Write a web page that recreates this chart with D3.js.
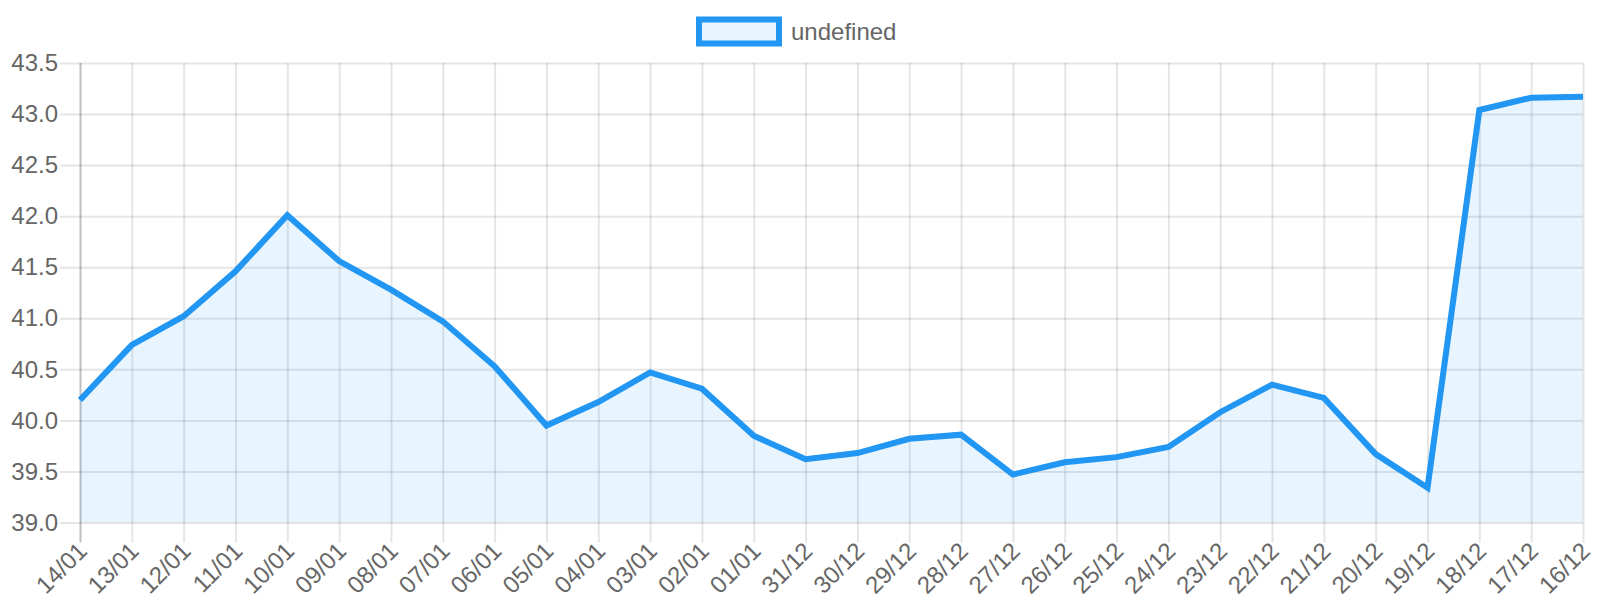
<!DOCTYPE html>
<html lang="en">
<head>
    <meta charset="UTF-8">
    <title>Line chart</title>
    <script src="https://d3js.org/d3.v7.min.js"></script>
    <style>
        body { margin: 0; background: #fff; }
        svg { display: block; font-family: "Liberation Sans", Arial, sans-serif; }
        .tick text { fill: #666; font-size: 24px; }
    </style>
</head>
<body>
    <svg class="chart" width="1600" height="600"></svg>
    <script>
        const labels = ["14/01", "13/01", "12/01", "11/01", "10/01", "09/01", "08/01", "07/01", "06/01", "05/01",
            "04/01", "03/01", "02/01", "01/01", "31/12", "30/12", "29/12", "28/12", "27/12", "26/12",
            "25/12", "24/12", "23/12", "22/12", "21/12", "20/12", "19/12", "18/12", "17/12", "16/12"];
        const values = [40.20, 40.74, 41.02, 41.46, 42.01, 41.56, 41.28, 40.97, 40.53, 39.95,
            40.18, 40.47, 40.31, 39.85, 39.62, 39.68, 39.82, 39.86, 39.47, 39.59,
            39.64, 39.74, 40.08, 40.35, 40.22, 39.67, 39.34, 43.04, 43.16, 43.17];
        const yTicks = [39.0, 39.5, 40.0, 40.5, 41.0, 41.5, 42.0, 42.5, 43.0, 43.5];
        const legendLabel = "undefined";

        const plotLeft = 80, plotRight = 1583, plotTop = 63, plotBottom = 522.5, tickLen = 20;
        const lineColor = "#2196F3";

        const svg = d3.select(".chart");

        const x = d3.scalePoint().domain(labels).range([plotLeft, plotRight]);
        const y = d3.scaleLinear().domain([39, 43.5]).range([plotBottom, plotTop]);

        // y grid + labels
        const yAxis = svg.append("g")
            .attr("transform", `translate(${plotLeft - tickLen},0)`)
            .call(d3.axisLeft(y).tickValues(yTicks)
                .tickSizeInner(-(plotRight - plotLeft + tickLen)).tickSizeOuter(0).tickPadding(2)
                .tickFormat(d3.format(".1f")));
        yAxis.attr("font-family", null).attr("font-size", null);
        yAxis.select(".domain").remove();
        yAxis.selectAll(".tick line").attr("stroke", "rgba(0,0,0,0.1)").attr("stroke-width", 2);

        // x grid + labels
        const xAxis = svg.append("g")
            .attr("transform", `translate(0,${plotBottom + tickLen})`)
            .call(d3.axisBottom(x).tickSizeInner(-(plotBottom + tickLen - plotTop)).tickSizeOuter(0).tickPadding(0));
        xAxis.attr("font-family", null).attr("font-size", null);
        xAxis.select(".domain").remove();
        xAxis.selectAll(".tick line")
            .attr("stroke", (d, i) => i === 0 ? "rgba(0,0,0,0.25)" : "rgba(0,0,0,0.1)")
            .attr("stroke-width", 2);
        xAxis.selectAll(".tick text")
            .attr("text-anchor", "end")
            .attr("y", 0).attr("dy", "0.35em")
            .attr("transform", "translate(2,4) rotate(-45)");

        // area + line
        const area = d3.area()
            .x((d, i) => x(labels[i]))
            .y0(plotBottom)
            .y1(d => y(d));
        const line = d3.line()
            .x((d, i) => x(labels[i]))
            .y(d => y(d));

        svg.append("path")
            .datum(values)
            .attr("d", area)
            .attr("fill", "rgba(33,150,243,0.1)");
        svg.append("path")
            .datum(values)
            .attr("d", line)
            .attr("fill", "none")
            .attr("stroke", lineColor)
            .attr("stroke-width", 6)
            .attr("stroke-linejoin", "miter");

        // legend
        const legend = svg.append("g");
        legend.append("rect")
            .attr("x", 699).attr("y", 19.5).attr("width", 80).attr("height", 24)
            .attr("fill", "rgba(33,150,243,0.1)")
            .attr("stroke", lineColor).attr("stroke-width", 6);
        legend.append("text")
            .attr("x", 791).attr("y", 31.5).attr("dy", "0.35em")
            .attr("fill", "#666").attr("font-size", 24)
            .text(legendLabel);
    </script>
</body>
</html>
